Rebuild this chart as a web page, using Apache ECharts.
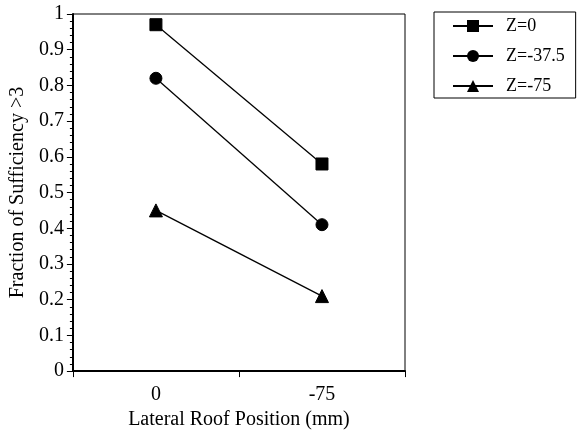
<!DOCTYPE html>
<html>
<head>
<meta charset="utf-8">
<script src="https://cdn.jsdelivr.net/npm/echarts@6/dist/echarts.min.js"></script>
<style>
  html, body { margin: 0; padding: 0; background: #fff; }
  #chart { width: 587px; height: 435px; }
</style>
</head>
<body>
<div id="chart"></div>
<script>
// Lateral roof positions (mm) along the x axis
const positions = ['0', '-75'];

// Fraction of sufficiency > 3 at each vertical position Z
const zNames = ['Z=0', 'Z=-37.5', 'Z=-75'];
const z0 = [0.97, 0.58];
const zMid = [0.82, 0.41];
const zLow = [0.45, 0.21];

const symbols = ['rect', 'circle', 'triangle'];
const seriesValues = [z0, zMid, zLow];

const font = 'Liberation Serif, Times New Roman, serif';

const chart = echarts.init(document.getElementById('chart'));

chart.setOption({
  animation: false,
  backgroundColor: '#fff',
  textStyle: { fontFamily: font, color: '#000' },
  grid: {
    left: 72, right: 182, top: 14, bottom: 62,
    show: true, borderColor: '#000', borderWidth: 1
  },
  legend: {
    orient: 'vertical',
    left: 434, top: 12,
    padding: [5, 11, 3, 18],
    itemGap: 12,
    itemWidth: 40, itemHeight: 15,
    borderColor: '#000', borderWidth: 1,
    textStyle: { fontFamily: font, fontSize: 18, color: '#000', padding: [0, 0, 0, 8] },
    data: zNames
  },
  xAxis: {
    type: 'category',
    data: positions,
    boundaryGap: true,
    name: 'Lateral Roof Position (mm)',
    nameLocation: 'middle',
    nameGap: 28,
    nameTextStyle: { fontFamily: font, fontSize: 20, color: '#000' },
    axisLine: { lineStyle: { color: '#000', width: 2 } },
    axisTick: { show: true, length: 6, lineStyle: { color: '#000' } },
    axisLabel: { fontFamily: font, fontSize: 20, color: '#000', margin: 14 }
  },
  yAxis: {
    type: 'value',
    min: 0, max: 1, interval: 0.1,
    name: 'Fraction of Sufficiency >3',
    nameLocation: 'middle',
    nameGap: 40,
    nameTextStyle: { fontFamily: font, fontSize: 20, color: '#000' },
    axisLine: { show: true, lineStyle: { color: '#000', width: 2 } },
    axisTick: { show: true, length: 6, lineStyle: { color: '#000' } },
    minorTick: { show: true, splitNumber: 5, length: 3, lineStyle: { color: '#000' } },
    splitLine: { show: false },
    axisLabel: { fontFamily: font, fontSize: 20, color: '#000', margin: 9 }
  },
  series: seriesValues.map((vals, i) => ({
    name: zNames[i],
    type: 'line',
    data: vals,
    symbol: symbols[i],
    symbolSize: i === 2 ? 13 : 12,
    showSymbol: true,
    lineStyle: { color: '#000', width: 1.3 },
    itemStyle: { color: '#000', borderColor: '#000' }
  }))
});
</script>
</body>
</html>
